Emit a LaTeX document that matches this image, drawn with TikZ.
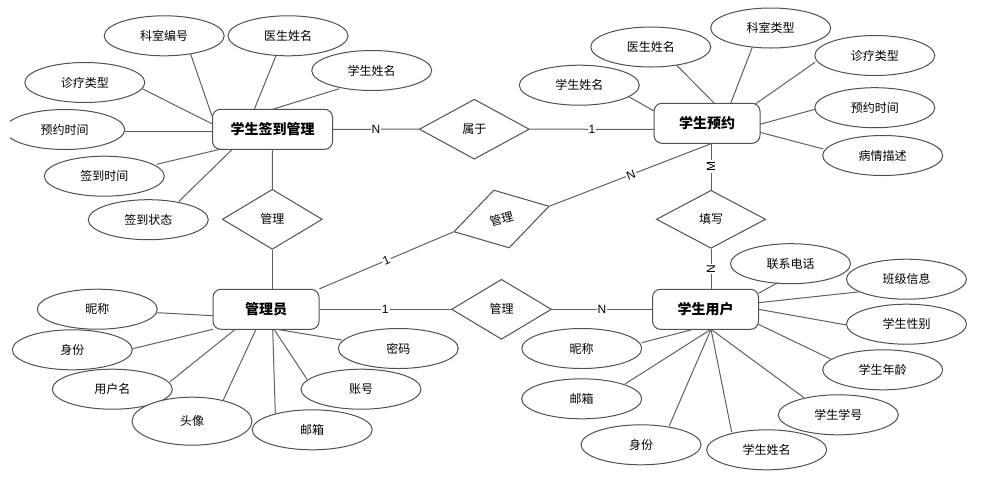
\documentclass[tikz,border=0pt]{standalone}
\usepackage{fontspec}
\setmainfont{Noto Sans CJK SC}
\newfontfamily\latinf{Liberation Sans}
\usetikzlibrary{shapes.geometric}
\definecolor{shp}{HTML}{505050}
\definecolor{lnc}{HTML}{606060}
\tikzset{
  ent/.style={draw=shp, line width=0.75pt, rounded corners=6pt, fill=white, inner sep=0pt,
    minimum width=79.5pt, minimum height=30pt, font=\fontsize{10.5}{12}\selectfont\bfseries},
  attr/.style={ellipse, draw=shp, line width=0.75pt, fill=white, inner sep=0pt,
    minimum width=90pt, minimum height=30pt, font=\fontsize{9}{10}\selectfont},
  rel/.style={diamond, draw=shp, line width=0.75pt, fill=white, inner sep=0pt, aspect=1,
    minimum width=75pt, minimum height=45pt, font=\fontsize{9}{10}\selectfont},
  ln/.style={draw=lnc, line width=0.75pt},
  lbl/.style={fill=white, inner sep=0.8pt, font=\latinf\fontsize{9}{10}\selectfont}
}
\begin{document}
\begin{tikzpicture}[x=0.75pt,y=-0.75pt]
\useasboundingbox (0,0) rectangle (985,483);
\clip (10,0) rectangle (985,483);
% lines first (drawn under shapes)
% entities
\node[ent, minimum width=90pt] (b1) at (272.5,129.3) {学生签到管理};
\node[ent] (b2) at (707,123.3) {学生预约};
\node[ent] (b3) at (266,309.3) {管理员};
\node[ent] (b4) at (705.5,309.3) {学生用户};
% relationships
\node[rel, minimum width=82.5pt] (r1) at (474.3,129.2) {属于};
\node[rel] (r2) at (272.3,219.3) {管理};
\node[rel, rotate=15, minimum width=74pt] (r3) at (501.5,219) {管理};
\node[rel] (r4) at (501.5,309.3) {管理};
\node[rel, minimum width=82pt, minimum height=43.5pt] (r5) at (711,219.3) {填写};
% attributes of b1
\node[attr] (k1) at (164.2,35.8) {科室编号};
\node[attr] (k2) at (288,35.8) {医生姓名};
\node[attr] (k3) at (371.7,70.5) {学生姓名};
\node[attr] (k4) at (84.8,82.5) {诊疗类型};
\node[attr] (k5) at (64.7,129.5) {预约时间};
\node[attr] (k6) at (104.3,176.2) {签到时间};
\node[attr] (k7) at (148.3,219.7) {签到状态};
% attributes of b2
\node[attr] (p1) at (579.3,85.2) {学生姓名};
\node[attr] (p2) at (650.8,47) {医生姓名};
\node[attr] (p3) at (770.7,28) {科室类型};
\node[attr] (p4) at (874.8,55.5) {诊疗类型};
\node[attr] (p5) at (874.8,107.7) {预约时间};
\node[attr] (p6) at (882.7,155.5) {病情描述};
% attributes of b3
\node[attr] (m1) at (97.3,309.2) {昵称};
\node[attr] (m2) at (72.3,349.8) {身份};
\node[attr] (m3) at (112.3,389.2) {用户名};
\node[attr, minimum height=36pt] (m4) at (192,421.2) {头像};
\node[attr] (m5) at (312.2,429.8) {邮箱};
\node[attr] (m6) at (361,389.2) {账号};
\node[attr] (m7) at (398.3,348.5) {密码};
% attributes of b4
\node[attr] (u1) at (790.5,263.7) {联系电话};
\node[attr] (u2) at (906.5,279.2) {班级信息};
\node[attr] (u3) at (906.5,324.2) {学生性别};
\node[attr] (u4) at (882.7,369.8) {学生年龄};
\node[attr] (u5) at (838.3,414.8) {学生学号};
\node[attr] (u6) at (766.7,449.8) {学生姓名};
\node[attr] (u7) at (641,444.8) {身份};
\node[attr] (u8) at (581.7,398.8) {邮箱};
\node[attr] (u9) at (581.7,348.5) {昵称};
% connectors b1
\draw[ln] ([shift={(26.5,18.5)}]k1.center) -- ([shift={(-60.5,-13.3)}]b1.center);
\draw[ln] ([shift={(-12,19.9)}]k2.center) -- ([shift={(-18.2,-20)}]b1.center);
\draw[ln] ([shift={(-32.4,18.2)}]k3.center) -- ([shift={(0,-20)}]b1.center);
\draw[ln] ([shift={(57.9,6.5)}]k4.center) -- ([shift={(-60,-5.3)}]b1.center);
\draw[ln] ([shift={(60,2.2)}]k5.center) -- ([shift={(-60,2.2)}]b1.center);
\draw[ln] ([shift={(52.4,-11.9)}]k6.center) -- ([shift={(-52.5,20)}]b1.center);
\draw[ln] ([shift={(30.7,-18.4)}]k7.center) -- ([shift={(-40.2,20)}]b1.center);
% connectors b2
\draw[ln] ([shift={(50,11.8)}]p1.center) -- ([shift={(-53,-12.3)}]b2.center);
\draw[ln] ([shift={(25.9,18.3)}]p2.center) -- ([shift={(7.3,-20)}]b2.center);
\draw[ln] ([shift={(-18.4,19.3)}]p3.center) -- ([shift={(23.7,-20)}]b2.center);
\draw[ln] ([shift={(-59.8,6.8)}]p4.center) -- ([shift={(48,-19)}]b2.center);
\draw[ln] ([shift={(-59.8,1.6)}]p5.center) -- ([shift={(53,1)}]b2.center);
\draw[ln] ([shift={(-59.4,-6.5)}]p6.center) -- ([shift={(53,9)}]b2.center);
% connectors b3
\draw[ln] ([shift={(60,3.5)}]m1.center) -- ([shift={(-53,6.4)}]b3.center);
\draw[ln] ([shift={(60.4,-1.1)}]m2.center) -- ([shift={(-53,20)}]b3.center);
\draw[ln] ([shift={(57.7,-7.5)}]m3.center) -- ([shift={(-30.7,20)}]b3.center);
\draw[ln] ([shift={(31.3,-21.2)}]m4.center) -- ([shift={(-10,20)}]b3.center);
\draw[ln] ([shift={(-36.9,-16.5)}]m5.center) -- ([shift={(6.7,20)}]b3.center);
\draw[ln] ([shift={(-54,-9.9)}]m6.center) -- ([shift={(8,20)}]b3.center);
\draw[ln] ([shift={(-56.6,-8.5)}]m7.center) -- ([shift={(10.7,20)}]b3.center);
% connectors b4
\draw[ln] ([shift={(-12.8,19)}]u1.center) -- ([shift={(53,-16)}]b4.center);
\draw[ln] ([shift={(-46.5,12.5)}]u2.center) -- ([shift={(53,-6.6)}]b4.center);
\draw[ln] ([shift={(-59.8,0.8)}]u3.center) -- ([shift={(53,0)}]b4.center);
\draw[ln] ([shift={(-52,-10.8)}]u4.center) -- ([shift={(53,15)}]b4.center);
\draw[ln] ([shift={(-34.3,-17.1)}]u5.center) -- ([shift={(5.5,20)}]b4.center);
\draw[ln] ([shift={(-35,-17.5)}]u6.center) -- ([shift={(5.5,20)}]b4.center);
\draw[ln] ([shift={(28.3,-19.1)}]u7.center) -- ([shift={(5.5,20)}]b4.center);
\draw[ln] ([shift={(43.3,-14.8)}]u8.center) -- ([shift={(5.5,20)}]b4.center);
\draw[ln] ([shift={(60,-5.8)}]u9.center) -- ([shift={(-12.2,20)}]b4.center);
% relationship connectors
\draw[ln] (b1.east) -- node[lbl] {N} (r1.west);
\draw[ln] (r1.east) -- node[lbl] {1} ([shift={(-53,6)}]b2.center);
\draw[ln] (b1.south) -- (r2.north);
\draw[ln] (r2.south) -- ([shift={(6.3,-20)}]b3.center);
\draw[ln] (b3.north east) -- node[lbl, sloped] {1} (r3.west);
\draw[ln] (r3.east) -- node[lbl, sloped] {N} ([shift={(5,20)}]b2.center);
\draw[ln] (b3.east) -- node[lbl] {1} (r4.west);
\draw[ln] (r4.east) -- node[lbl] {N} (b4.west);
\draw[ln] ([shift={(4,20)}]b2.center) -- node[lbl, rotate=90] {M} (r5.north);
\draw[ln] (r5.south) -- node[lbl, rotate=90] {N} ([shift={(5.5,-20)}]b4.center);
\end{tikzpicture}
\end{document}
